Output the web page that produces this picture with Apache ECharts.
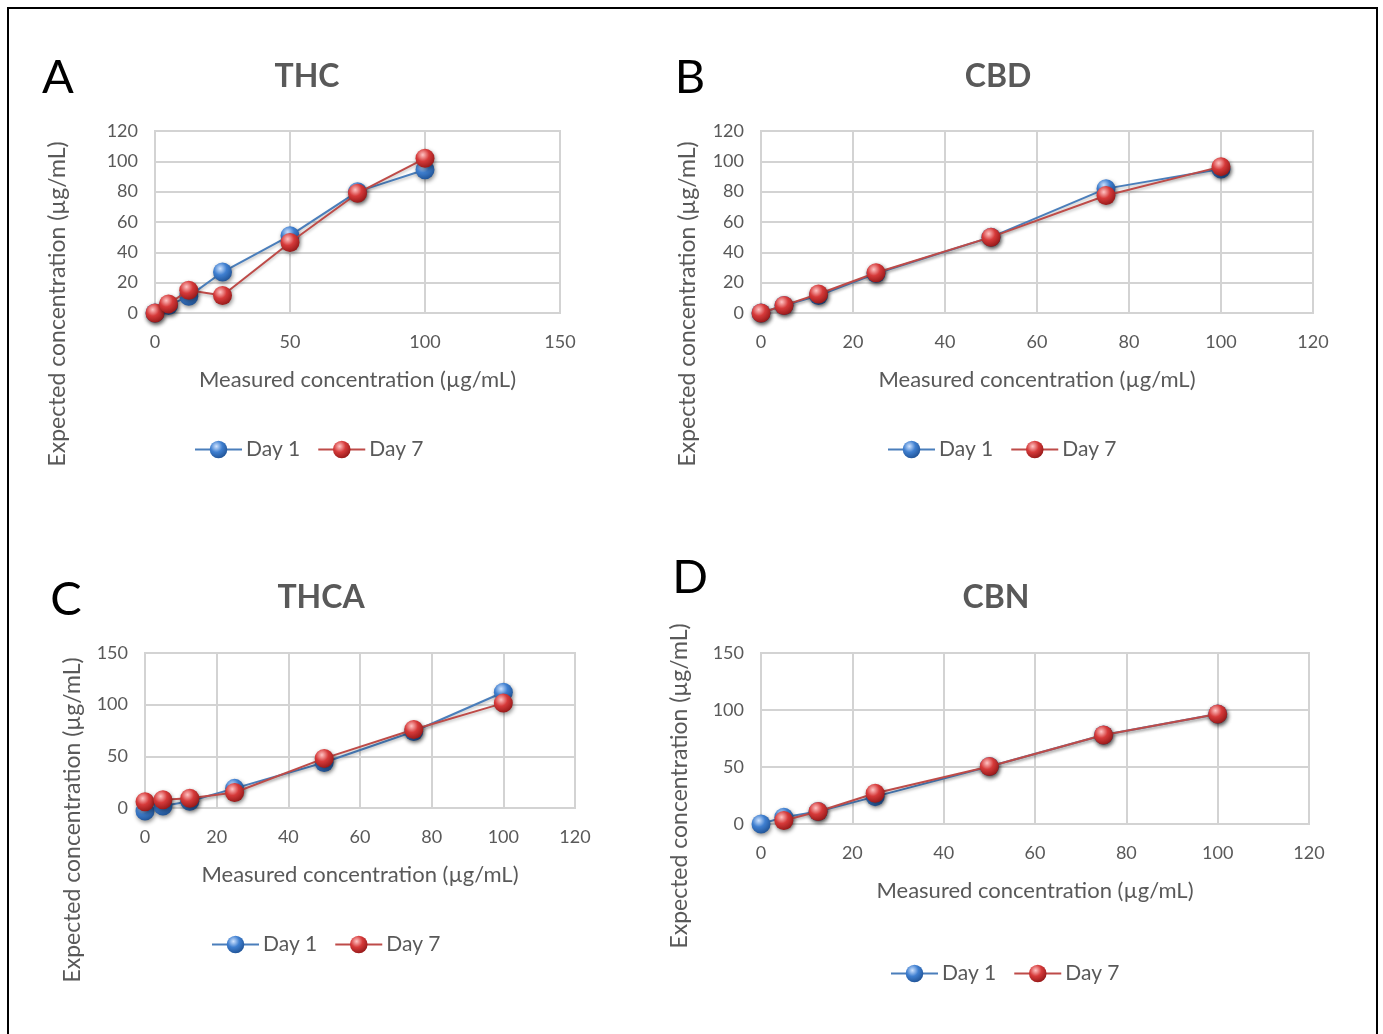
<!DOCTYPE html>
<html>
<head>
<meta charset="utf-8">
<script src="https://cdn.jsdelivr.net/npm/echarts@6/dist/echarts.min.js"></script>
<style>
html,body{margin:0;padding:0;background:#fff;}
#chart{width:1383px;height:1034px;}
</style>
</head>
<body>
<div id="chart"></div>
<script>
// ---- data ----
var nominal = [0, 5, 12.5, 25, 50, 75, 100];
var thcDay1 = [0, 5, 11, 27, 51, 80, 94.5];
var thcDay7 = [0, 6, 15, 11.5, 46.5, 79, 102];
var cbdDay1 = [0, 5, 11.5, 26, 50, 82, 95];
var cbdDay7 = [0, 5, 12.5, 26.5, 50, 77.5, 96.5];
var thcaDay1 = [-3, 2, 6.5, 19, 44, 74, 112];
var thcaDay7 = [6, 8, 9.5, 15, 48, 76, 101.5];
var cbnDay1 = [0, 6, 11, 24, 50.5, 78, 96.5];
var cbnDay7 = [null, 3, 11, 27, 50.5, 78, 96.5];
var panelTitles = ['THC', 'CBD', 'THCA', 'CBN'];
var panelLetters = ['A', 'B', 'C', 'D'];
var seriesNames = ['Day 1', 'Day 7'];
var xAxisName = 'Measured concentration (µg/mL)';
var yAxisName = 'Expected concentration (µg/mL)';

function pairs(xs, ys) {
  var out = [];
  for (var i = 0; i < xs.length; i++) if (ys[i] !== null) out.push([xs[i], ys[i]]);
  return out;
}

var FONT = 'Lato, "Open Sans", sans-serif';
var GRAY = '#595959';
var GRID = '#d3d3d3';

var panels = [
  {d1: thcDay1, d7: thcDay7, grid: {left:155, top:131, width:405, height:182}, xMax:150, xInt:50, yMax:120, yInt:20,
   legend:{left:189, top:434}, yName:[58,304]},
  {d1: cbdDay1, d7: cbdDay7, grid: {left:761, top:131, width:552, height:182}, xMax:120, xInt:20, yMax:120, yInt:20,
   legend:{left:882, top:434}, yName:[688,304]},
  {d1: thcaDay1, d7: thcaDay7, grid: {left:145, top:653, width:430, height:155}, xMax:120, xInt:20, yMax:150, yInt:50,
   legend:{left:206, top:929}, yName:[73,820]},
  {d1: cbnDay1, d7: cbnDay7, grid: {left:761, top:653, width:548, height:171}, xMax:120, xInt:20, yMax:150, yInt:50,
   legend:{left:885, top:958}, yName:[680,786]}
];
var titlePos = [[307,77],[998,77],[321,598],[996,598]];
var letterPos = [[58,78],[690,78],[66,600],[690,578]];

function sphere(light, mid, dark) {
  return {type:'radial', x:0.38, y:0.32, r:0.75,
    colorStops:[{offset:0, color:light},{offset:0.45, color:mid},{offset:1, color:dark}]};
}
var blueFill = sphere('#cfe3ff', '#3f7fd0', '#1d4f91');
var redFill = sphere('#ffc4c4', '#d63a3a', '#8e1515');
var blueLine = '#4a7ebb';
var redLine = '#be4b48';

var grids = [], xAxes = [], yAxes = [], series = [], legends = [], graphics = [];

panels.forEach(function (p, i) {
  grids.push(Object.assign({containLabel:false, show:true, borderColor:GRID, borderWidth:2}, p.grid));
  xAxes.push({
    type:'value', gridIndex:i, min:0, max:p.xMax, interval:p.xInt,
    name:xAxisName, nameLocation:'middle', nameGap:56,
    nameTextStyle:{fontFamily:FONT, fontSize:22, color:GRAY},
    axisLine:{show:true, lineStyle:{color:GRID, width:2}},
    axisTick:{show:false},
    axisLabel:{fontFamily:FONT, fontSize:18, color:GRAY, margin:20},
    splitLine:{show:true, lineStyle:{color:GRID, width:2}}
  });
  yAxes.push({
    type:'value', gridIndex:i, min:0, max:p.yMax, interval:p.yInt,
    axisLine:{show:true, lineStyle:{color:GRID, width:2}},
    axisTick:{show:false},
    axisLabel:{fontFamily:FONT, fontSize:18, color:GRAY, margin:17},
    splitLine:{show:true, lineStyle:{color:GRID, width:2}}
  });
  var common = {type:'line', xAxisIndex:i, yAxisIndex:i, symbol:'circle', symbolSize:19, clip:false,
    animation:false};
  series.push(Object.assign({}, common, {
    name:seriesNames[0], data:pairs(nominal, p.d1), z:2,
    lineStyle:{color:blueLine, width:2, shadowColor:'rgba(0,0,0,0.25)', shadowBlur:3, shadowOffsetY:2},
    itemStyle:{color:blueFill, borderWidth:0, shadowColor:'rgba(0,0,0,0.45)', shadowBlur:4, shadowOffsetX:1, shadowOffsetY:2}
  }));
  series.push(Object.assign({}, common, {
    name:seriesNames[1], data:pairs(nominal, p.d7), z:3,
    lineStyle:{color:redLine, width:2, shadowColor:'rgba(0,0,0,0.25)', shadowBlur:3, shadowOffsetY:2},
    itemStyle:{color:redFill, borderWidth:0, shadowColor:'rgba(0,0,0,0.45)', shadowBlur:4, shadowOffsetX:1, shadowOffsetY:2}
  }));
  legends.push({
    left:p.legend.left, top:p.legend.top, orient:'horizontal', itemGap:17,
    itemWidth:47, itemHeight:22,
    data:[{name:seriesNames[0], itemStyle:{color:blueFill}, lineStyle:{color:blueLine, width:2}},
          {name:seriesNames[1], itemStyle:{color:redFill}, lineStyle:{color:redLine, width:2}}],
    textStyle:{fontFamily:FONT, fontSize:21, color:GRAY, padding:[0,0,0,-1]},
    selectedMode:false
  });
  graphics.push({type:'text', x:titlePos[i][0], y:titlePos[i][1],
    style:{text:panelTitles[i], fontFamily:FONT, fontSize:32, fontWeight:'bold', fill:GRAY,
      textAlign:'center', textVerticalAlign:'middle'}});
  graphics.push({type:'text', x:letterPos[i][0], y:letterPos[i][1],
    style:{text:panelLetters[i], fontFamily:FONT, fontSize:47, fill:'#000',
      textAlign:'center', textVerticalAlign:'middle'}});
  graphics.push({type:'text', x:p.yName[0], y:p.yName[1], rotation:Math.PI/2,
    style:{text:yAxisName, fontFamily:FONT, fontSize:23, fill:GRAY,
      textAlign:'center', textVerticalAlign:'middle'}});
});

graphics.push({type:'rect', shape:{x:8, y:8, width:1369, height:1050},
  style:{fill:'none', stroke:'#000', lineWidth:2}, silent:true});

var chart = echarts.init(document.getElementById('chart'), null, {renderer:'canvas'});
chart.setOption({
  backgroundColor:'#fff',
  animation:false,
  grid:grids, xAxis:xAxes, yAxis:yAxes, series:series, legend:legends,
  graphic:graphics
});
</script>
</body>
</html>
